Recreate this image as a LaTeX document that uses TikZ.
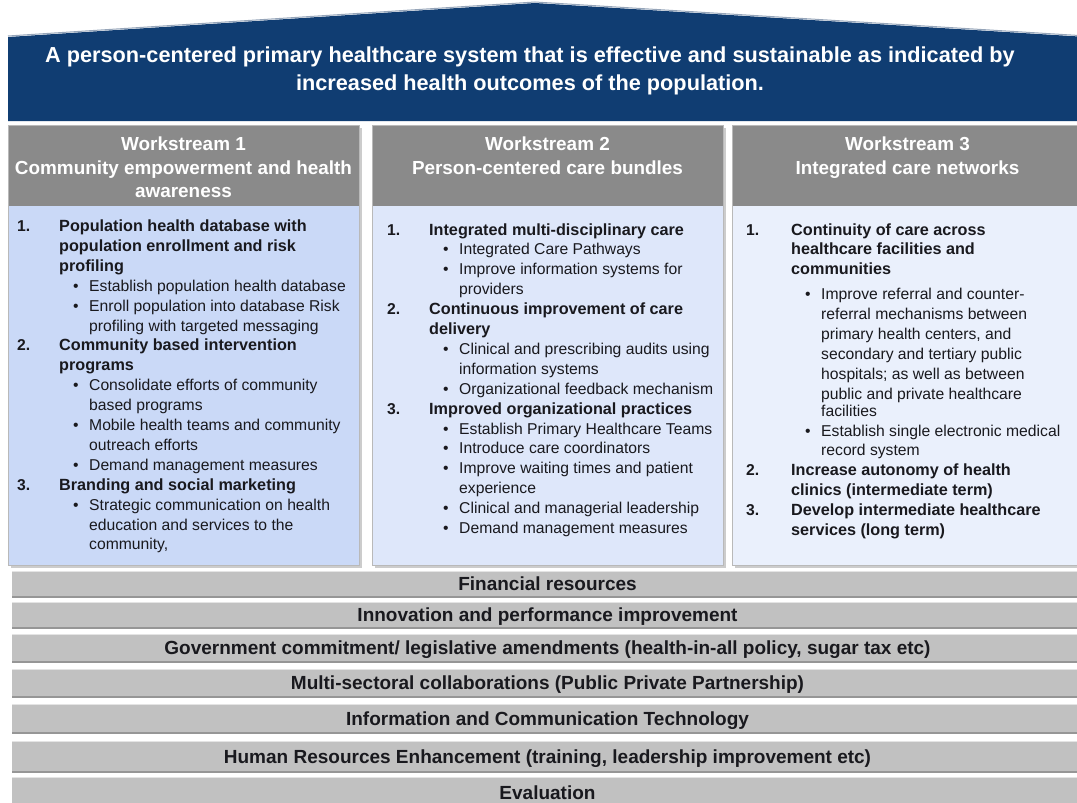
\documentclass[tikz,border=0pt]{standalone}
\usepackage{fontspec}
\setmainfont{Liberation Sans}

\definecolor{roofblue}{RGB}{16,61,114}
\definecolor{roofedge}{RGB}{150,165,185}
\definecolor{headgray}{RGB}{138,138,138}
\definecolor{ws1blue}{RGB}{202,217,247}
\definecolor{ws2blue}{RGB}{222,231,250}
\definecolor{ws3blue}{RGB}{234,240,252}
\definecolor{bargray}{RGB}{193,193,193}
\definecolor{barshade}{RGB}{150,150,150}
\definecolor{bartop}{RGB}{228,228,228}
\definecolor{textdark}{RGB}{25,25,30}

% one printed line of a workstream list
\newlength\numsep \setlength\numsep{42pt}
\newcommand\headfont{\fontsize{16.2}{19.9}\selectfont\bfseries}
\newcommand\numline[2]{\leavevmode\hbox to\numsep{\bfseries#1\hfil}{\headfont#2}\par}
\newcommand\headline[1]{\leavevmode\hskip\numsep{\headfont#1}\par}
\newcommand\bulline[1]{\leavevmode\hskip\numsep\hskip14pt\hbox to16pt{\textbullet\hfil}#1\par}
\newcommand\bulcont[1]{\leavevmode\hskip\numsep\hskip30pt#1\par}
\newcommand\listbox[1]{\vtop{\hsize=350pt\parindent=0pt#1}}
\newcommand\headtext[1]{\vtop{\hsize=350pt\parindent=0pt\centering#1\par}}

\tikzset{
  vision/.style={text=white, align=center, inner sep=0,
    font=\fontsize{21.7}{28}\selectfont\bfseries},
  wshead/.style={text=white, inner sep=0, anchor=base,
    font=\fontsize{18.9}{23.5}\selectfont\bfseries},
  wsbody/.style={text=textdark, inner sep=0, anchor=base west,
    font=\fontsize{15.7}{19.9}\selectfont},
  pillar/.style={text=textdark, inner sep=0, anchor=base,
    font=\fontsize{19}{22}\selectfont\bfseries}
}

\begin{document}
\begin{tikzpicture}[x=1pt,y=-1pt]
	%%%%% FRAME %%%%%
	\clip (0,0) rectangle (1077,803);
	\fill[white] (0,0) rectangle (1077,803);

	%%%%% ROOF %%%%%
	\fill[roofblue] (8,37) -- (535,3) -- (1087,37) -- (1087,121) -- (8,121) -- cycle;
	\draw[roofedge, line width=1pt] (8,36) -- (535,2) -- (1087,36);
	\node[vision] (vision) at (530,71) {A person-centered primary healthcare system that is effective and sustainable as indicated by\\increased health outcomes of the population.};

	%%%%% WORKSTREAM COLUMNS %%%%%
	\foreach \xl/\xr/\tint in {8/359/ws1blue, 372/723/ws2blue, 732/1083/ws3blue}{
		\fill[gray!40] (\xl+3,128) rectangle (\xr+3,568);
		\fill[headgray] (\xl,125) rectangle (\xr,206);
		\fill[\tint] (\xl,206) rectangle (\xr,565);
		\draw[gray!55, line width=0.6pt] (\xl,125) rectangle (\xr,565);
	}

	\node[wshead] (ws1head) at (183.5,150.5) {\headtext{Workstream 1\\Community empowerment and health\\awareness}};
	\node[wshead] (ws2head) at (547.5,150.5) {\headtext{Workstream 2\\Person-centered care bundles}};
	\node[wshead] (ws3head) at (907.5,150.5) {\headtext{Workstream 3\\Integrated care networks}};

	\node[wsbody] (ws1list) at (17,231.5) {\listbox{%
		\numline{1.}{Population health database with}
		\headline{population enrollment and risk}
		\headline{profiling}
		\bulline{Establish population health database}
		\bulline{Enroll population into database Risk}
		\bulcont{profiling with targeted messaging}
		\numline{2.}{Community based intervention}
		\headline{programs}
		\bulline{Consolidate efforts of community}
		\bulcont{based programs}
		\bulline{Mobile health teams and community}
		\bulcont{outreach efforts}
		\bulline{Demand management measures}
		\numline{3.}{Branding and social marketing}
		\bulline{Strategic communication on health}
		\bulcont{education and services to the}
		\bulcont{community,}}};

	\node[wsbody] (ws2list) at (387,235) {\listbox{%
		\numline{1.}{Integrated multi-disciplinary care}
		\bulline{Integrated Care Pathways}
		\bulline{Improve information systems for}
		\bulcont{providers}
		\numline{2.}{Continuous improvement of care}
		\headline{delivery}
		\bulline{Clinical and prescribing audits using}
		\bulcont{information systems}
		\bulline{Organizational feedback mechanism}
		\numline{3.}{Improved organizational practices}
		\bulline{Establish Primary Healthcare Teams}
		\bulline{Introduce care coordinators}
		\bulline{Improve waiting times and patient}
		\bulcont{experience}
		\bulline{Clinical and managerial leadership}
		\bulline{Demand management measures}}};

	\node[wsbody] (ws3list) at (746,235) {\listbox{\setlength\numsep{45pt}%
		\numline{1.}{Continuity of care across}
		\headline{healthcare facilities and}
		\headline{communities}
		\vskip5pt
		\bulline{Improve referral and counter-}
		\bulcont{referral mechanisms between}
		\bulcont{primary health centers, and}
		\bulcont{secondary and tertiary public}
		\bulcont{hospitals; as well as between}
		\bulcont{public and private healthcare}
		\vskip-3pt
		\bulcont{facilities}
		\bulline{Establish single electronic medical}
		\bulcont{record system}
		\numline{2.}{Increase autonomy of health}
		\headline{clinics (intermediate term)}
		\numline{3.}{Develop intermediate healthcare}
		\headline{services (long term)}}};

	%%%%% FOUNDATION BARS %%%%%
	\foreach \yt/\yb/\lbl [count=\i] in {
		571/597/{Financial resources},
		602/628/{Innovation and performance improvement},
		634/662/{Government commitment/ legislative amendments (health-in-all policy, sugar tax etc)},
		669/697/{Multi-sectoral collaborations (Public Private Partnership)},
		704/733/{Information and Communication Technology},
		741/772/{Human Resources Enhancement (training, leadership improvement etc)},
		777/808/{Evaluation}}{
		\fill[bargray] (12,\yt) rectangle (1083,\yb);
		\draw[barshade, line width=1.5pt] (12,\yb) -- (1083,\yb);
		\draw[bartop, line width=1pt] (12,\yt) -- (1083,\yt);
		\node[pillar] (bar\i) at (547.5,{(\yt+\yb)/2+6.5}) {\lbl};
	}
\end{tikzpicture}
\end{document}
